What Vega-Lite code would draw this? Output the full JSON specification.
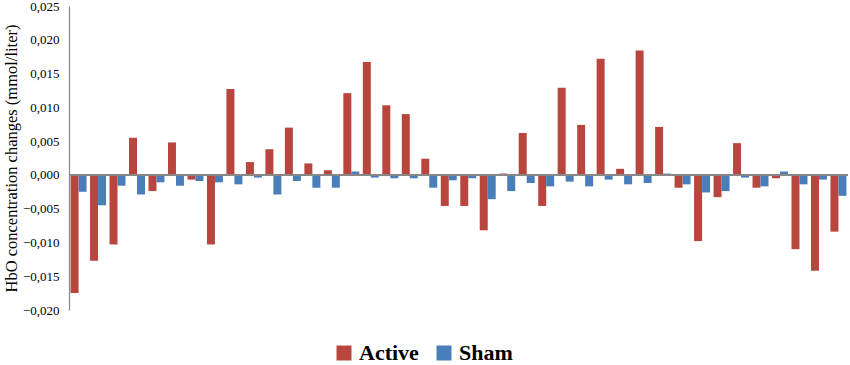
{
  "$schema": "https://vega.github.io/schema/vega-lite/v6.json",
  "width": 779,
  "height": 304,
  "padding": {"left": 3, "top": 0, "right": 2, "bottom": 0},
  "background": "white",
  "config": {"view": {"stroke": null}, "font": "Liberation Serif",
             "axis": {"labelFont": "Liberation Serif", "titleFont": "Liberation Serif", "labelOverlap": false},
             "legend": {"labelFont": "Liberation Serif"}},
  "data": {"values": [
    {"ch":1,"group":"Active","v":-0.0175},{"ch":1,"group":"Sham","v":-0.0025},
    {"ch":2,"group":"Active","v":-0.0127},{"ch":2,"group":"Sham","v":-0.0045},
    {"ch":3,"group":"Active","v":-0.0103},{"ch":3,"group":"Sham","v":-0.0016},
    {"ch":4,"group":"Active","v":0.0055},{"ch":4,"group":"Sham","v":-0.0029},
    {"ch":5,"group":"Active","v":-0.0024},{"ch":5,"group":"Sham","v":-0.0011},
    {"ch":6,"group":"Active","v":0.0048},{"ch":6,"group":"Sham","v":-0.0016},
    {"ch":7,"group":"Active","v":-0.0007},{"ch":7,"group":"Sham","v":-0.0009},
    {"ch":8,"group":"Active","v":-0.0103},{"ch":8,"group":"Sham","v":-0.0011},
    {"ch":9,"group":"Active","v":0.0127},{"ch":9,"group":"Sham","v":-0.0014},
    {"ch":10,"group":"Active","v":0.0019},{"ch":10,"group":"Sham","v":-0.0004},
    {"ch":11,"group":"Active","v":0.0038},{"ch":11,"group":"Sham","v":-0.0029},
    {"ch":12,"group":"Active","v":0.0070},{"ch":12,"group":"Sham","v":-0.0009},
    {"ch":13,"group":"Active","v":0.0017},{"ch":13,"group":"Sham","v":-0.0019},
    {"ch":14,"group":"Active","v":0.0007},{"ch":14,"group":"Sham","v":-0.0019},
    {"ch":15,"group":"Active","v":0.0121},{"ch":15,"group":"Sham","v":0.0005},
    {"ch":16,"group":"Active","v":0.0167},{"ch":16,"group":"Sham","v":-0.0004},
    {"ch":17,"group":"Active","v":0.0103},{"ch":17,"group":"Sham","v":-0.0005},
    {"ch":18,"group":"Active","v":0.0090},{"ch":18,"group":"Sham","v":-0.0005},
    {"ch":19,"group":"Active","v":0.0024},{"ch":19,"group":"Sham","v":-0.0019},
    {"ch":20,"group":"Active","v":-0.0046},{"ch":20,"group":"Sham","v":-0.0008},
    {"ch":21,"group":"Active","v":-0.0046},{"ch":21,"group":"Sham","v":-0.0005},
    {"ch":22,"group":"Active","v":-0.0082},{"ch":22,"group":"Sham","v":-0.0036},
    {"ch":23,"group":"Active","v":0.0002},{"ch":23,"group":"Sham","v":-0.0024},
    {"ch":24,"group":"Active","v":0.0062},{"ch":24,"group":"Sham","v":-0.0012},
    {"ch":25,"group":"Active","v":-0.0046},{"ch":25,"group":"Sham","v":-0.0017},
    {"ch":26,"group":"Active","v":0.0129},{"ch":26,"group":"Sham","v":-0.0010},
    {"ch":27,"group":"Active","v":0.0074},{"ch":27,"group":"Sham","v":-0.0017},
    {"ch":28,"group":"Active","v":0.0172},{"ch":28,"group":"Sham","v":-0.0007},
    {"ch":29,"group":"Active","v":0.0009},{"ch":29,"group":"Sham","v":-0.0014},
    {"ch":30,"group":"Active","v":0.0184},{"ch":30,"group":"Sham","v":-0.0012},
    {"ch":31,"group":"Active","v":0.0071},{"ch":31,"group":"Sham","v":0.0002},
    {"ch":32,"group":"Active","v":-0.0019},{"ch":32,"group":"Sham","v":-0.0014},
    {"ch":33,"group":"Active","v":-0.0098},{"ch":33,"group":"Sham","v":-0.0026},
    {"ch":34,"group":"Active","v":-0.0033},{"ch":34,"group":"Sham","v":-0.0024},
    {"ch":35,"group":"Active","v":0.0047},{"ch":35,"group":"Sham","v":-0.0004},
    {"ch":36,"group":"Active","v":-0.0019},{"ch":36,"group":"Sham","v":-0.0017},
    {"ch":37,"group":"Active","v":-0.0005},{"ch":37,"group":"Sham","v":0.0005},
    {"ch":38,"group":"Active","v":-0.0110},{"ch":38,"group":"Sham","v":-0.0014},
    {"ch":39,"group":"Active","v":-0.0142},{"ch":39,"group":"Sham","v":-0.0007},
    {"ch":40,"group":"Active","v":-0.0084},{"ch":40,"group":"Sham","v":-0.0031}
  ]},
  "encoding": {
    "y": {"field": "v", "type": "quantitative",
          "scale": {"domain": [-0.02, 0.025], "nice": false, "zero": false},
          "axis": {"values": [-0.02,-0.015,-0.01,-0.005,0,0.005,0.01,0.015,0.02,0.025],
                   "labelExpr": "replace(format(datum.value, '.3f'), '.', ',')",
                   "labelOverlap": false,
                   "title": "HbO concentration changes (mmol/liter)",
                   "titleFontSize": 16.5, "titleFontWeight": "normal",
                   "titleColor": "#000", "titlePadding": 3,
                   "labelFontSize": 13, "labelColor": "#000",
                   "labelPadding": 10,
                   "ticks": false, "grid": false, "domainColor": "#888", "domainWidth": 1.2}}
  },
  "layer": [
    {
      "mark": {"type": "bar"},
      "encoding": {
        "x": {"field": "ch", "type": "ordinal", "axis": null,
              "scale": {"paddingInner": 0.18, "paddingOuter": 0.08}},
        "xOffset": {"field": "group", "type": "nominal", "sort": ["Active", "Sham"]},
        "color": {"field": "group", "type": "nominal",
                  "scale": {"domain": ["Active", "Sham"], "range": ["#B8463F", "#4A7EBB"]},
                  "legend": {"orient": "none", "legendX": 264, "legendY": 336,
                             "direction": "horizontal", "title": null,
                             "symbolType": "square", "symbolSize": 225, "symbolStrokeWidth": 0,
                             "labelFontSize": 22, "labelFontWeight": "bold",
                             "labelColor": "#000", "columnPadding": 14}}
      }
    },
    {
      "mark": {"type": "rule", "color": "#888", "strokeWidth": 1.2},
      "encoding": {"y": {"datum": 0}}
    }
  ]
}
